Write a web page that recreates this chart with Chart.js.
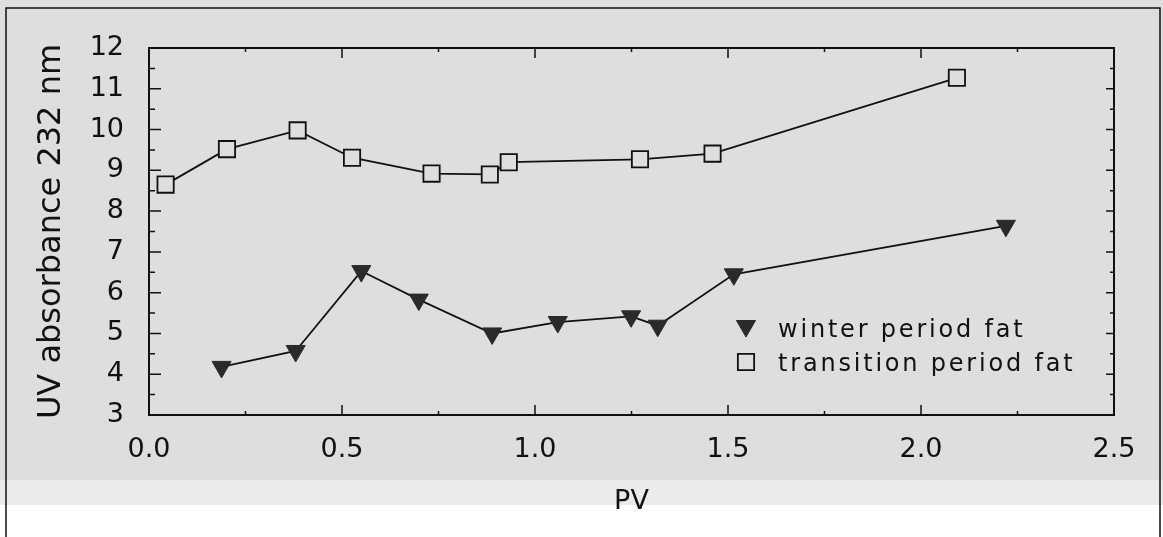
<!DOCTYPE html>
<html>
<head>
<meta charset="utf-8">
<script src="https://cdn.jsdelivr.net/npm/chart.js@4.4.0/dist/chart.umd.min.js"></script>
<style>
  html, body { margin: 0; padding: 0; background: #fff; }
  #wrap { width: 1163px; height: 537px; }
</style>
</head>
<body>
<div id="wrap"><canvas id="uvChart" width="1163" height="537"></canvas></div>
<script>
// values
const pvWinter = [0.188, 0.380, 0.550, 0.699, 0.889, 1.059, 1.249, 1.318, 1.515, 2.220];
const uvWinter = [4.18, 4.57, 6.53, 5.83, 5.00, 5.28, 5.42, 5.19, 6.45, 7.64];
const pvTransition = [0.043, 0.202, 0.385, 0.526, 0.732, 0.883, 0.932, 1.272, 1.460, 2.093];
const uvTransition = [8.65, 9.52, 9.98, 9.31, 8.92, 8.90, 9.20, 9.27, 9.41, 11.27];
const seriesNames = ['winter period fat', 'transition period fat'];
const xTickValues = [0, 0.5, 1.0, 1.5, 2.0, 2.5];
const yTickValues = [3, 4, 5, 6, 7, 8, 9, 10, 11, 12];

const INK = '#111';
const PAPER = '#dedede';
const FONT = "'DejaVu Sans', sans-serif";

const toXY = (xs, ys) => xs.map((x, i) => ({ x: x, y: ys[i] }));

// paper background and outer frame
const paperPlugin = {
    id: 'paper',
    beforeDraw(chart) {
        const ctx = chart.ctx;
        ctx.save();
        ctx.fillStyle = '#fff';
        ctx.fillRect(0, 0, chart.width, chart.height);
        ctx.fillStyle = PAPER;
        ctx.fillRect(0, 0, chart.width, 480);
        ctx.fillStyle = '#ebebeb';
        ctx.fillRect(0, 480, chart.width, 25);
        ctx.strokeStyle = INK;
        ctx.lineWidth = 1.5;
        ctx.beginPath();
        ctx.moveTo(6, chart.height);
        ctx.lineTo(6, 8);
        ctx.lineTo(1160, 8);
        ctx.lineTo(1160, chart.height);
        ctx.stroke();
        ctx.restore();
    }
};

// box round the plot with inward ticks on all four sides
const boxTicksPlugin = {
    id: 'boxTicks',
    afterDraw(chart) {
        const ctx = chart.ctx;
        const area = chart.chartArea;
        const xs = chart.scales.x;
        const ys = chart.scales.y;
        ctx.save();
        ctx.strokeStyle = INK;
        ctx.lineWidth = 2;
        ctx.strokeRect(area.left, area.top, area.right - area.left, area.bottom - area.top);
        ctx.lineWidth = 1.5;
        ctx.beginPath();
        for (let v = 0; v <= 2.5001; v += 0.25) {
            const px = xs.getPixelForValue(v);
            const major = Math.abs(v * 2 - Math.round(v * 2)) < 1e-6;
            const len = major ? 10 : 4;
            ctx.moveTo(px, area.bottom);
            ctx.lineTo(px, area.bottom - len);
            ctx.moveTo(px, area.top);
            ctx.lineTo(px, area.top + len);
        }
        for (let v = 3; v <= 12.001; v += 0.5) {
            const py = ys.getPixelForValue(v);
            const major = Math.abs(v - Math.round(v)) < 1e-6;
            ctx.moveTo(area.left, py);
            ctx.lineTo(area.left + (major ? 12 : 6), py);
            ctx.moveTo(area.right, py);
            ctx.lineTo(area.right - (major ? 8 : 4), py);
        }
        ctx.stroke();
        ctx.restore();
    }
};

// legend inside the plot, lower right
const innerLegendPlugin = {
    id: 'innerLegend',
    afterDraw(chart) {
        const ctx = chart.ctx;
        const area = chart.chartArea;
        const mx = area.right - 368;
        const tx = area.right - 336;
        const rows = [area.bottom - 87, area.bottom - 53];
        ctx.save();
        chart.data.datasets.forEach((ds, i) => {
            const y = rows[i];
            ctx.fillStyle = ds.pointBackgroundColor;
            ctx.strokeStyle = ds.pointBorderColor;
            ctx.lineWidth = ds.pointBorderWidth;
            Chart.helpers.drawPoint(ctx, {
                pointStyle: ds.pointStyle,
                rotation: ds.pointRotation,
                radius: ds.pointRadius,
                borderWidth: ds.pointBorderWidth
            }, mx, y + (ds.pointStyle === 'triangle' ? -2 : 0));
            ctx.letterSpacing = '2.8px';
            ctx.font = '24px ' + FONT;
            ctx.fillStyle = INK;
            ctx.textAlign = 'left';
            ctx.textBaseline = 'middle';
            ctx.fillText(ds.label, tx, y + 3);
            ctx.letterSpacing = '0px';
        });
        ctx.restore();
    }
};

new Chart(document.getElementById('uvChart'), {
    type: 'scatter',
    data: {
        datasets: [
            {
                label: seriesNames[0],
                data: toXY(pvWinter, uvWinter),
                showLine: true,
                borderColor: INK,
                borderWidth: 1.8,
                pointStyle: 'triangle',
                pointRotation: 180,
                pointRadius: 11,
                pointHoverRadius: 11,
                pointBackgroundColor: '#2a2a2a',
                pointBorderColor: '#2a2a2a',
                pointBorderWidth: 1
            },
            {
                label: seriesNames[1],
                data: toXY(pvTransition, uvTransition),
                showLine: true,
                borderColor: INK,
                borderWidth: 1.8,
                pointStyle: 'rect',
                pointRadius: 11.5,
                pointHoverRadius: 11.5,
                pointBackgroundColor: PAPER,
                pointBorderColor: INK,
                pointBorderWidth: 1.8
            }
        ]
    },
    options: {
        responsive: false,
        animation: false,
        devicePixelRatio: 1,
        layout: { padding: { top: 48, right: 49, left: 0, bottom: 0 } },
        plugins: {
            legend: { display: false },
            tooltip: { enabled: false }
        },
        scales: {
            x: {
                type: 'linear',
                min: 0,
                max: 2.5,
                afterFit: s => { s.height = 122; },
                afterBuildTicks: s => { s.ticks = xTickValues.map(v => ({ value: v })); },
                grid: { display: false },
                border: { display: false },
                ticks: {
                    autoSkip: false,
                    maxRotation: 0,
                    padding: 11,
                    color: INK,
                    font: { family: FONT, size: 27 },
                    callback: v => v.toFixed(1)
                },
                title: {
                    display: true,
                    text: 'PV',
                    color: INK,
                    font: { family: FONT, size: 27 },
                    padding: { top: 0, bottom: 19 }
                }
            },
            y: {
                min: 3,
                max: 12,
                afterFit: s => { s.width = 149; },
                afterBuildTicks: s => { s.ticks = yTickValues.map(v => ({ value: v })); },
                grid: { display: false },
                border: { display: false },
                ticks: {
                    autoSkip: false,
                    padding: 17,
                    color: INK,
                    font: { family: FONT, size: 27 },
                    callback: v => String(v)
                },
                title: {
                    display: true,
                    text: 'UV absorbance 232 nm',
                    color: INK,
                    font: { family: FONT, size: 32 },
                    padding: { top: 32, bottom: 0 }
                }
            }
        }
    },
    plugins: [paperPlugin, boxTicksPlugin, innerLegendPlugin]
});
</script>
</body>
</html>
